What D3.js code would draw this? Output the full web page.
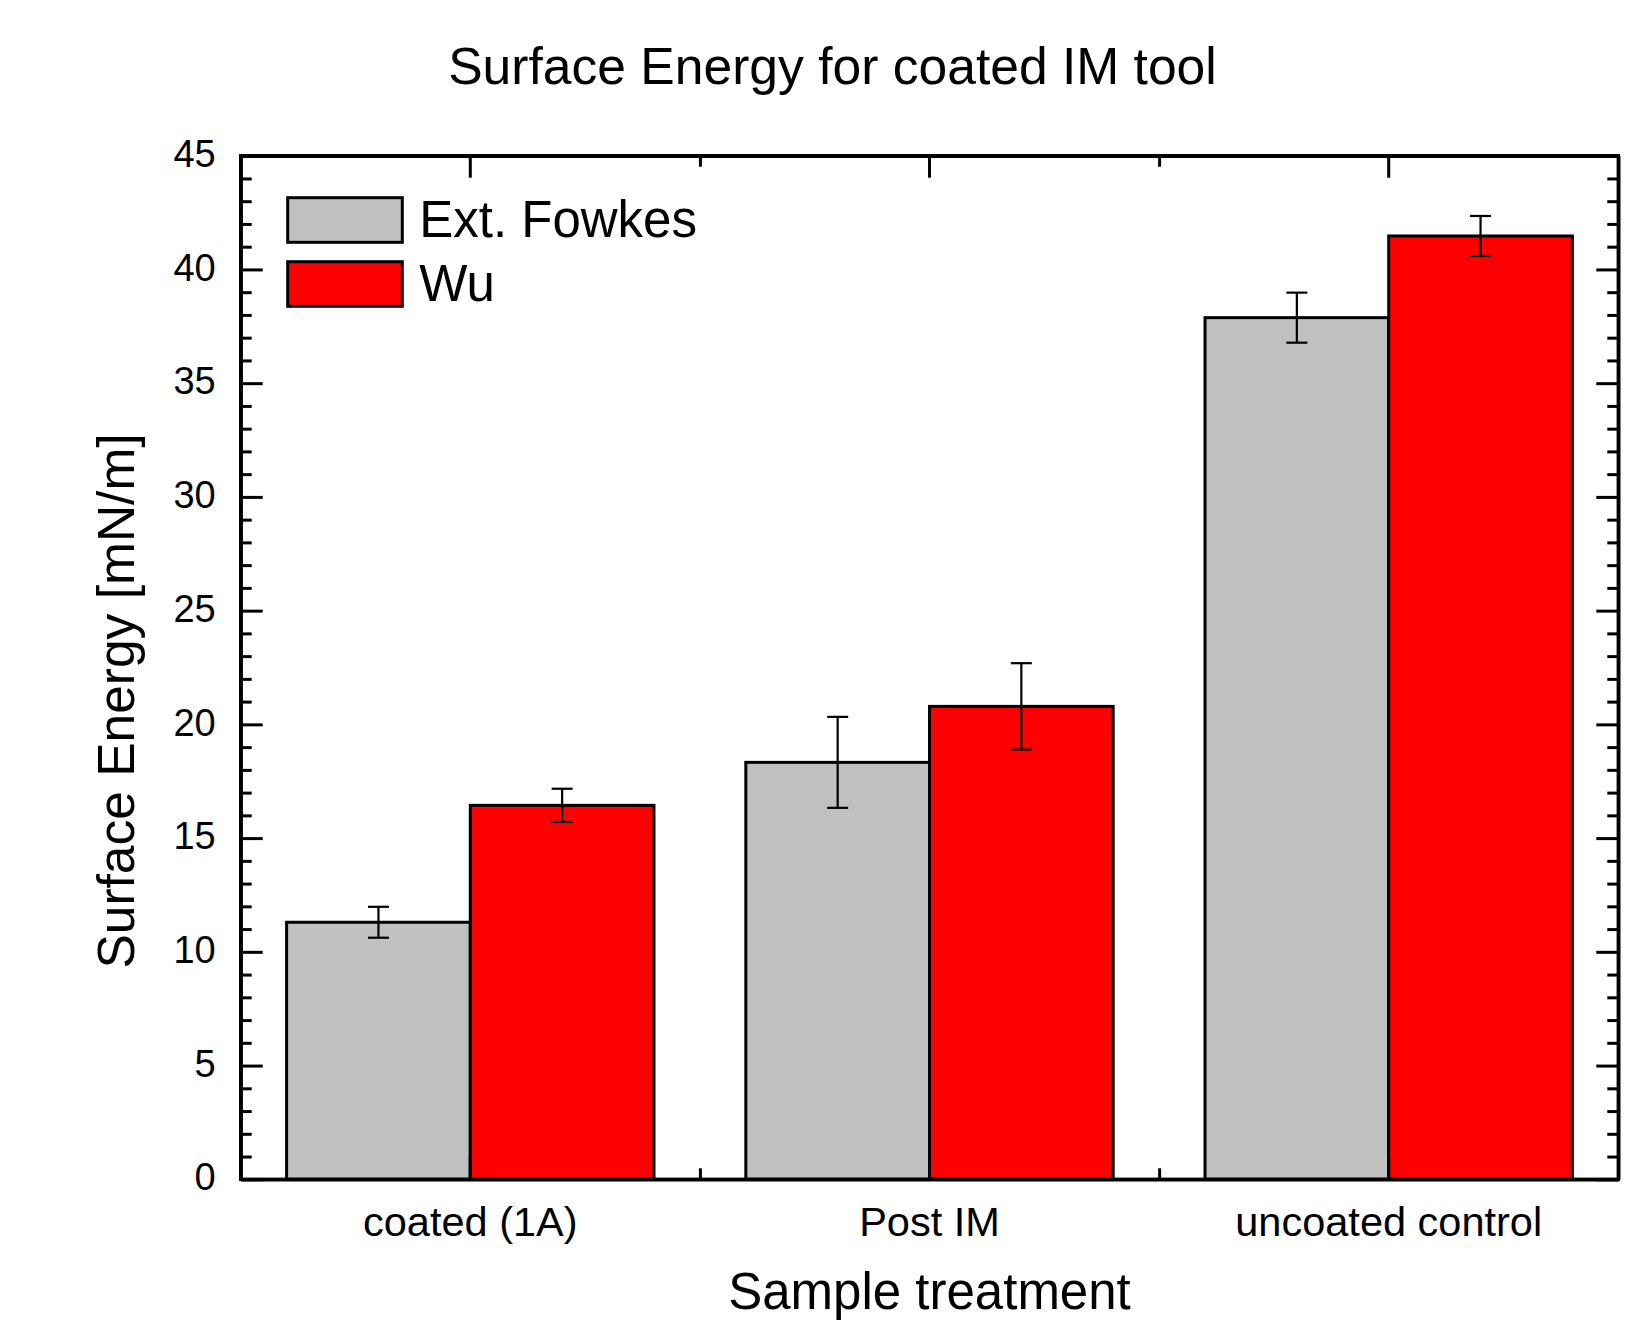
<!DOCTYPE html>
<html>
<head>
<meta charset="utf-8">
<script src="https://cdn.jsdelivr.net/npm/d3@7"></script>
<style>
  body { margin: 0; background: #fff; }
  svg { display: block; font-family: "Liberation Sans", Arial, sans-serif; }
</style>
</head>
<body>
<svg id="chart"></svg>
<script>
const categories = ["coated (1A)", "Post IM", "uncoated control"];
const seriesNames = ["Ext. Fowkes", "Wu"];
const fowkes = [11.3, 18.33, 37.88];
const fowkesErr = [0.68, 2.0, 1.1];
const wu = [16.44, 20.79, 41.47];
const wuErr = [0.73, 1.9, 0.88];
const yTicks = [0, 5, 10, 15, 20, 25, 30, 35, 40, 45];

const width = 1645, height = 1322;
const marginLeft = 240.7, marginRight = 1645 - 1618.3, marginTop = 155.7, marginBottom = 1322 - 1179.3;
const colors = ["#c0c0c0", "#ff0000"];

const rows = categories.map((c, i) => ({
  cat: c,
  vals: [
    { s: seriesNames[0], v: fowkes[i], e: fowkesErr[i] },
    { s: seriesNames[1], v: wu[i], e: wuErr[i] }
  ]
}));

const svg = d3.select("#chart")
  .attr("width", width)
  .attr("height", height)
  .attr("viewBox", [0, 0, width, height]);

const x0 = d3.scaleBand(categories, [marginLeft, width - marginRight]).padding(0);
const x1 = d3.scaleBand(seriesNames, [0, x0.bandwidth()]).paddingInner(0).paddingOuter(0.25);
const xi = d3.scaleLinear([0, categories.length], [marginLeft, width - marginRight]);
const y = d3.scaleLinear([0, 45], [height - marginBottom, marginTop]);
const color = d3.scaleOrdinal(seriesNames, colors);

// bars
const group = svg.append("g")
  .selectAll("g")
  .data(rows)
  .join("g")
    .attr("transform", d => `translate(${x0(d.cat)},0)`);

group.selectAll("rect")
  .data(d => d.vals)
  .join("rect")
    .attr("x", d => x1(d.s))
    .attr("y", d => y(d.v))
    .attr("width", x1.bandwidth())
    .attr("height", d => y(0) - y(d.v))
    .attr("fill", d => color(d.s))
    .attr("stroke", "#000")
    .attr("stroke-width", 3);

// error bars
const capW = 21;
const err = group.selectAll("g.err")
  .data(d => d.vals)
  .join("g")
    .attr("class", "err")
    .attr("stroke", "#000")
    .attr("stroke-width", 2.2);
err.append("line")
  .attr("x1", d => x1(d.s) + x1.bandwidth() / 2)
  .attr("x2", d => x1(d.s) + x1.bandwidth() / 2)
  .attr("y1", d => y(d.v + d.e))
  .attr("y2", d => y(d.v - d.e));
err.append("line")
  .attr("x1", d => x1(d.s) + x1.bandwidth() / 2 - capW / 2)
  .attr("x2", d => x1(d.s) + x1.bandwidth() / 2 + capW / 2)
  .attr("y1", d => y(d.v + d.e))
  .attr("y2", d => y(d.v + d.e));
err.append("line")
  .attr("x1", d => x1(d.s) + x1.bandwidth() / 2 - capW / 2)
  .attr("x2", d => x1(d.s) + x1.bandwidth() / 2 + capW / 2)
  .attr("y1", d => y(d.v - d.e))
  .attr("y2", d => y(d.v - d.e));

// axes
const styleAxis = g => g
  .call(g => g.selectAll(".domain").attr("stroke-width", 3.4))
  .call(g => g.selectAll(".tick line").attr("stroke-width", 3))
  .call(g => g.selectAll("text").attr("fill", "#000"));

const yMinor = d3.range(0, 46).filter(v => v % 5 !== 0);

svg.append("g")
  .attr("transform", `translate(${marginLeft},0)`)
  .call(d3.axisLeft(y).tickValues(yMinor).tickSize(-11).tickFormat(""))
  .call(g => g.select(".domain").remove())
  .call(styleAxis);
svg.append("g")
  .attr("transform", `translate(${marginLeft},0)`)
  .call(d3.axisLeft(y).tickValues(yTicks).tickSizeInner(-22).tickSizeOuter(0).tickPadding(25))
  .call(g => g.selectAll("text").style("font-size", "38px").attr("dy", "0.28em"))
  .call(styleAxis);

svg.append("g")
  .attr("transform", `translate(${width - marginRight},0)`)
  .call(d3.axisRight(y).tickValues(yMinor).tickSize(-11).tickFormat(""))
  .call(g => g.select(".domain").remove())
  .call(styleAxis);
svg.append("g")
  .attr("transform", `translate(${width - marginRight},0)`)
  .call(d3.axisRight(y).tickValues(yTicks).tickSizeInner(-22).tickSizeOuter(0).tickFormat(""))
  .call(styleAxis);

const xMinor = d3.range(1, categories.length);

svg.append("g")
  .attr("transform", `translate(0,${height - marginBottom})`)
  .call(d3.axisBottom(xi).tickValues(xMinor).tickSize(-11).tickFormat(""))
  .call(g => g.select(".domain").remove())
  .call(styleAxis);
svg.append("g")
  .attr("transform", `translate(0,${height - marginBottom})`)
  .call(d3.axisBottom(x0).tickSizeInner(-22).tickSizeOuter(0).tickPadding(27))
  .call(g => g.selectAll("text").style("font-size", "41.5px"))
  .call(styleAxis);

svg.append("g")
  .attr("transform", `translate(0,${marginTop})`)
  .call(d3.axisTop(xi).tickValues(xMinor).tickSize(-11).tickFormat(""))
  .call(g => g.select(".domain").remove())
  .call(styleAxis);
svg.append("g")
  .attr("transform", `translate(0,${marginTop})`)
  .call(d3.axisTop(x0).tickSizeInner(-22).tickSizeOuter(0).tickFormat(""))
  .call(styleAxis);

// square corners of the frame
svg.append("rect")
  .attr("x", marginLeft)
  .attr("y", marginTop)
  .attr("width", width - marginLeft - marginRight)
  .attr("height", height - marginTop - marginBottom)
  .attr("fill", "none")
  .attr("stroke", "#000")
  .attr("stroke-width", 3.4);

// legend
const legend = svg.append("g")
  .selectAll("g")
  .data(seriesNames)
  .join("g")
    .attr("transform", (d, i) => `translate(287.7,${197.7 + i * 64})`);
legend.append("rect")
  .attr("width", 114.6)
  .attr("height", 44.6)
  .attr("fill", d => color(d))
  .attr("stroke", "#000")
  .attr("stroke-width", 3);
legend.append("text")
  .attr("x", 131.5)
  .attr("y", 39.5)
  .attr("fill", "#000")
  .style("font-size", "51px")
  .text(d => d);

// titles
svg.append("text")
  .attr("x", 832.5)
  .attr("y", 83.5)
  .attr("text-anchor", "middle")
  .attr("fill", "#000")
  .style("font-size", "51.6px")
  .text("Surface Energy for coated IM tool");

svg.append("text")
  .attr("transform", `translate(134,701) rotate(-90)`)
  .attr("text-anchor", "middle")
  .attr("fill", "#000")
  .style("font-size", "51.5px")
  .text("Surface Energy [mN/m]");

svg.append("text")
  .attr("x", (marginLeft + width - marginRight) / 2)
  .attr("y", 1309)
  .attr("text-anchor", "middle")
  .attr("fill", "#000")
  .style("font-size", "51px")
  .text("Sample treatment");
</script>
</body>
</html>
